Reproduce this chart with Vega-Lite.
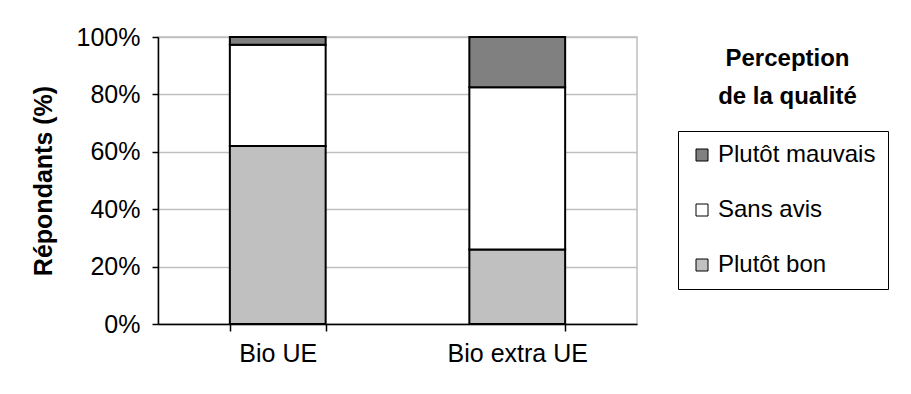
{
  "$schema": "https://vega.github.io/schema/vega-lite/v6.json",
  "autosize": {"type": "none"},
  "width": 479,
  "height": 287,
  "padding": {"left": 158, "top": 37, "right": 274, "bottom": 70},
  "background": "white",
  "title": {
    "text": ["Perception", "de la qualité"],
    "fontSize": 24,
    "fontWeight": "bold",
    "font": "Liberation Sans",
    "color": "black",
    "anchor": "middle",
    "frame": "group",
    "dx": 390,
    "offset": -84,
    "lineHeight": 38
  },
  "data": {
    "values": [
      {"origine": "Bio UE", "perception": "Plutôt bon", "rang": 1, "pct": 62.0},
      {"origine": "Bio UE", "perception": "Sans avis", "rang": 2, "pct": 35.3},
      {"origine": "Bio UE", "perception": "Plutôt mauvais", "rang": 3, "pct": 2.7},
      {"origine": "Bio extra UE", "perception": "Plutôt bon", "rang": 1, "pct": 26.0},
      {"origine": "Bio extra UE", "perception": "Sans avis", "rang": 2, "pct": 56.5},
      {"origine": "Bio extra UE", "perception": "Plutôt mauvais", "rang": 3, "pct": 17.5}
    ]
  },
  "mark": {"type": "bar", "stroke": "black", "strokeWidth": 2},
  "encoding": {
    "x": {
      "field": "origine",
      "type": "nominal",
      "sort": ["Bio UE", "Bio extra UE"],
      "scale": {"paddingInner": 0.6, "paddingOuter": 0.3},
      "axis": {
        "title": null,
        "labelAngle": 0,
        "labelFontSize": 25,
        "labelFont": "Liberation Sans",
        "labelColor": "black",
        "labelPadding": 10,
        "tickBand": "extent",
        "tickColor": "black",
        "tickSize": 7,
        "tickWidth": 1.5,
        "domainColor": "black",
        "domainWidth": 1.5,
        "grid": false
      }
    },
    "y": {
      "field": "pct",
      "type": "quantitative",
      "stack": "normalize",
      "scale": {"domain": [0, 1]},
      "axis": {
        "title": "Répondants (%)",
        "titleFontSize": 25,
        "titleFont": "Liberation Sans",
        "titleFontWeight": "bold",
        "titleColor": "black",
        "titlePadding": 20,
        "format": ".0%",
        "values": [0, 0.2, 0.4, 0.6, 0.8, 1],
        "labelFontSize": 25,
        "labelFont": "Liberation Sans",
        "labelColor": "black",
        "labelPadding": 12,
        "tickColor": "black",
        "tickSize": 6,
        "tickWidth": 1.5,
        "domainColor": "black",
        "domainWidth": 1.5,
        "gridColor": "#c0c0c0",
        "gridWidth": 1.5
      }
    },
    "color": {
      "field": "perception",
      "type": "nominal",
      "scale": {
        "domain": ["Plutôt mauvais", "Sans avis", "Plutôt bon"],
        "range": ["#808080", "#ffffff", "#c0c0c0"]
      },
      "legend": {
        "title": null,
        "orient": "none",
        "legendX": 520,
        "legendY": 94,
        "strokeColor": "black",
        "padding": 12,
        "rowPadding": 31,
        "symbolType": "square",
        "symbolSize": 144,
        "symbolStrokeColor": "black",
        "symbolStrokeWidth": 1,
        "labelFontSize": 24,
        "labelFont": "Liberation Sans",
        "labelColor": "black",
        "labelOffset": 4,
        "labelLimit": 300,
        "symbolOpacity": 1
      }
    },
    "order": {"field": "rang", "type": "quantitative"}
  },
  "config": {
    "view": {"stroke": "#c0c0c0", "strokeWidth": 1.5}
  }
}
